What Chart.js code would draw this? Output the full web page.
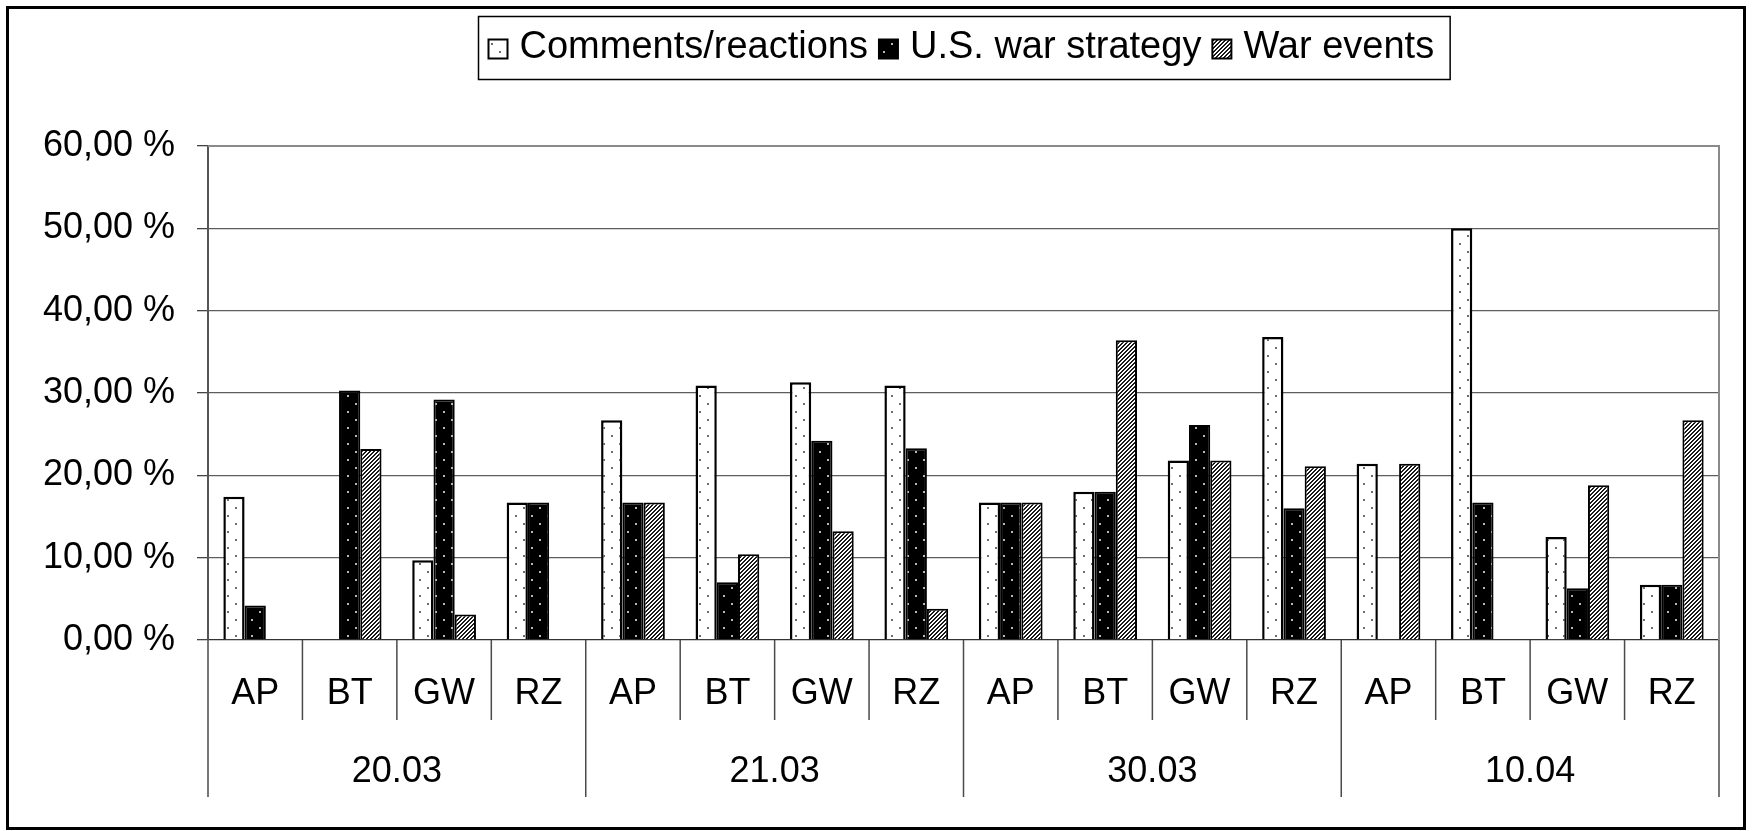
<!DOCTYPE html>
<html>
<head>
<meta charset="utf-8">
<script src="https://cdn.jsdelivr.net/npm/chart.js@4"></script>
<style>
  html, body { margin: 0; padding: 0; background: #fff; }
  canvas { display: block; }
</style>
</head>
<body>
<canvas id="chart" width="1752" height="831"></canvas>
<script>
// ── Data ──────────────────────────────────────────────────────────
const outlets  = ["AP", "BT", "GW", "RZ"];
const dates    = ["20.03", "21.03", "30.03", "10.04"];
const labels   = dates.flatMap(() => outlets);

const seriesNames = ["Comments/reactions", "U.S. war strategy", "War events"];
const comments = [17.4, 0, 9.7, 16.7, 26.7, 30.9, 31.3, 30.9, 16.7, 18.0, 21.8, 36.8, 21.4, 50.0, 12.5, 6.7];
const strategy = [4.2, 30.3, 29.2, 16.7, 16.7, 7.0, 24.2, 23.3, 16.7, 18.0, 26.1, 16.0, 0, 16.7, 6.3, 6.7];
const events   = [0, 23.2, 3.1, 0, 16.7, 10.4, 13.2, 3.8, 16.7, 36.4, 21.8, 21.1, 21.4, 0, 18.8, 26.7];

const FONT = '"Liberation Sans", Arial, sans-serif';

// ── Fill patterns ─────────────────────────────────────────────────
function dotPattern(bg, dot) {
  const c = document.createElement("canvas");
  c.width = 16; c.height = 16;
  const g = c.getContext("2d");
  g.fillStyle = bg;  g.fillRect(0, 0, 16, 16);
  g.fillStyle = dot;
  g.fillRect(3, 3, 2, 2);
  g.fillRect(11, 11, 2, 2);
  return g.createPattern(c, "repeat");
}

function hatchPattern() {
  const c = document.createElement("canvas");
  c.width = 8; c.height = 8;
  const g = c.getContext("2d");
  g.fillStyle = "#fff"; g.fillRect(0, 0, 8, 8);
  g.fillStyle = "#1a1a1a";
  for (let y = 0; y < 8; y++)
    for (let x = 0; x < 8; x++)
      if ((x + y) % 4 < 2) g.fillRect(x, y, 1, 1);
  return g.createPattern(c, "repeat");
}

const fills = [dotPattern("#fff", "#6a6a6a"), dotPattern("#000", "#b8b8b8"), hatchPattern()];

// ── Plugins ───────────────────────────────────────────────────────
const framePlugin = {
  id: "frame",
  beforeDraw(chart) {
    const { ctx, width, height } = chart;
    ctx.save();
    ctx.fillStyle = "#fff";
    ctx.fillRect(0, 0, width, height);
    ctx.restore();
  },
  afterDraw(chart) {
    const { ctx, chartArea: a } = chart;
    ctx.save();
    // plot border top/right
    ctx.strokeStyle = "#8a8a8a";
    ctx.lineWidth = 2;
    ctx.beginPath();
    ctx.moveTo(a.left, a.top);
    ctx.lineTo(a.right, a.top);
    ctx.lineTo(a.right, a.bottom);
    ctx.stroke();
    // outer border
    ctx.strokeStyle = "#000";
    ctx.lineWidth = 3;
    ctx.strokeRect(7.5, 7.5, 1737, 821);
    ctx.restore();
  }
};

const tablePlugin = {
  id: "categoryTable",
  afterDraw(chart) {
    const { ctx, chartArea: a, scales: { x } } = chart;
    const half = (x.getPixelForValue(1) - x.getPixelForValue(0)) / 2;
    const row1 = a.bottom + 80, row2 = a.bottom + 157;
    ctx.save();
    ctx.strokeStyle = "#4a4a4a";
    ctx.lineWidth = 1.5;
    for (let i = 0; i <= labels.length; i++) {
      const px = i < labels.length ? x.getPixelForValue(i) - half : x.getPixelForValue(i - 1) + half;
      ctx.beginPath();
      ctx.moveTo(px, a.bottom);
      ctx.lineTo(px, i % outlets.length === 0 ? row2 : row1);
      ctx.stroke();
    }
    ctx.fillStyle = "#000";
    ctx.font = `36px ${FONT}`;
    ctx.textAlign = "center";
    ctx.textBaseline = "middle";
    labels.forEach((l, i) => ctx.fillText(l, x.getPixelForValue(i), a.bottom + 54));
    dates.forEach((d, j) => {
      const c = (x.getPixelForValue(j * 4) + x.getPixelForValue(j * 4 + 3)) / 2;
      ctx.fillText(d, c, a.bottom + 132);
    });
    ctx.restore();
  }
};

const legendPlugin = {
  id: "boxLegend",
  afterDraw(chart) {
    const { ctx, chartArea: a } = chart;
    ctx.save();
    ctx.font = `38px ${FONT}`;
    const sym = 19, gapSym = 12, gapItem = 11, pad = 10;
    const widths = seriesNames.map(n => ctx.measureText(n).width);
    const total = widths.reduce((s, w) => s + sym + gapSym + w, 0) + gapItem * (seriesNames.length - 1);
    const boxW = total + pad * 2 + 6;
    const boxL = Math.round((a.left + a.right) / 2 - boxW / 2) + 0.5;
    const boxT = 16.5, boxH = 63, cy = 47;
    ctx.strokeStyle = "#000";
    ctx.lineWidth = 1.5;
    ctx.strokeRect(boxL, boxT, boxW, boxH);
    let cx = boxL + pad;
    ctx.textBaseline = "middle";
    ctx.textAlign = "left";
    seriesNames.forEach((n, i) => {
      ctx.fillStyle = fills[i];
      ctx.fillRect(cx, cy - sym / 2 + 2, sym, sym);
      ctx.strokeStyle = "#000";
      ctx.lineWidth = 2;
      ctx.strokeRect(cx, cy - sym / 2 + 2, sym, sym);
      cx += sym + gapSym;
      ctx.fillStyle = "#000";
      ctx.fillText(n, cx, cy + 1);
      cx += widths[i] + gapItem;
    });
    ctx.restore();
  }
};

// ── Chart ─────────────────────────────────────────────────────────
new Chart(document.getElementById("chart"), {
  type: "bar",
  data: {
    labels,
    datasets: [comments, strategy, events].map((d, i) => ({
      label: seriesNames[i],
      data: d,
      backgroundColor: fills[i],
      borderColor: "#000",
      borderWidth: i === 0 ? 2.5 : 2,
      barPercentage: 1,
      categoryPercentage: 0.675,
    }))
  },
  options: {
    responsive: false,
    animation: false,
    layout: { padding: { top: 146, right: 33, bottom: 191, left: 0 } },
    plugins: { legend: { display: false }, tooltip: { enabled: false } },
    scales: {
      x: { display: false },
      y: {
        min: 0, max: 60,
        afterFit: s => { s.width = 208; },
        ticks: {
          stepSize: 10,
          padding: 22,
          color: "#000",
          font: { family: FONT, size: 36 },
          callback: v => v.toFixed(2).replace(".", ",") + " %"
        },
        grid: {
          color: c => c.tick.value === 0 ? "#333" : "#5e5e5e",
          lineWidth: 1.3,
          tickLength: 11,
          tickColor: "#444"
        },
        border: { color: "#555", width: 2 }
      }
    }
  },
  plugins: [framePlugin, tablePlugin, legendPlugin]
});
</script>
</body>
</html>
